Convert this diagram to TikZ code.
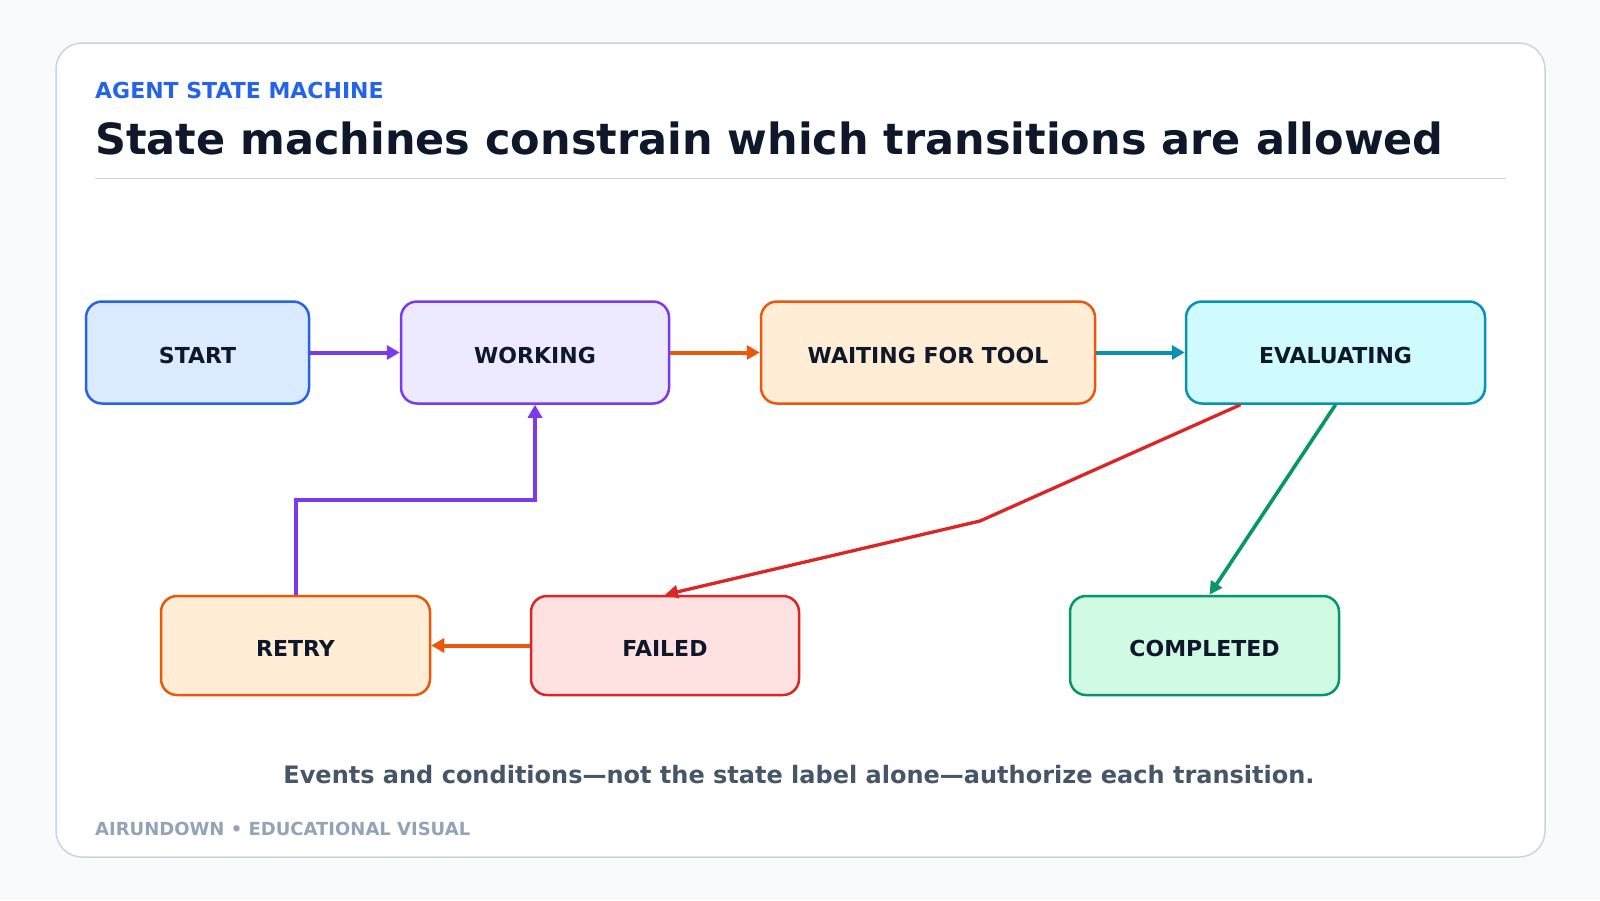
\documentclass[tikz,border=0pt]{standalone}
\usepackage{fontspec}
\setmainfont{DejaVu Sans}
\usetikzlibrary{arrows.meta,calc}
\definecolor{bgc}{HTML}{F8FAFC}
\definecolor{cardline}{HTML}{CBD5E1}
\definecolor{kick}{HTML}{2563EB}
\definecolor{ink}{HTML}{0F172A}
\definecolor{capc}{HTML}{475569}
\definecolor{footc}{HTML}{94A3B8}
\definecolor{blueB}{HTML}{2563EB}\definecolor{blueF}{HTML}{DBEAFE}
\definecolor{purB}{HTML}{7C3AED}\definecolor{purF}{HTML}{EDE9FE}
\definecolor{orB}{HTML}{EA580C}\definecolor{orF}{HTML}{FFEDD5}
\definecolor{cyB}{HTML}{0891B2}\definecolor{cyF}{HTML}{CFFAFE}
\definecolor{redB}{HTML}{DC2626}\definecolor{redF}{HTML}{FEE2E2}
\definecolor{grB}{HTML}{059669}\definecolor{grF}{HTML}{D1FAE5}
\tikzset{
  statebox/.style={draw, line width=2.5pt, rounded corners=16pt, minimum height=102pt,
    inner sep=0pt, text height=22pt, text depth=0pt,
    font=\fontsize{22}{26}\selectfont\bfseries, text=ink},
  conn/.style={line width=4pt, -{Triangle[length=13pt,width=14pt]}},
  thinconn/.style={line width=3.3pt, -{Triangle[length=13pt,width=13pt]}}
}
\begin{document}
\begin{tikzpicture}[x=1pt,y=-1pt]
\useasboundingbox (0,0) rectangle (1600,900);
\fill[bgc] (0,0) rectangle (1600,900);
\draw[cardline, line width=1.5pt, fill=white, rounded corners=26pt] (56,43) rectangle (1545,857);
\node[anchor=west, inner sep=0pt, text=kick, font=\fontsize{22}{26}\selectfont\bfseries] (kicker) at (95,90) {AGENT STATE MACHINE};
\node[anchor=base west, text=ink, font=\fontsize{43}{52}\selectfont\bfseries, inner sep=0pt] (title) at (95,154) {State machines constrain which transitions are allowed};
\draw[cardline, line width=1.5pt] (95,178.5) -- (1506,178.5);

\node[statebox, draw=blueB, fill=blueF, minimum width=223pt] (start) at (197.5,352.5) {START};
\node[statebox, draw=purB, fill=purF, minimum width=268pt] (working) at (535,352.5) {WORKING};
\node[statebox, draw=orB, fill=orF, minimum width=334pt] (waiting) at (928,352.5) {WAITING FOR TOOL};
\node[statebox, draw=cyB, fill=cyF, minimum width=299pt] (eval) at (1335.5,352.5) {EVALUATING};
\node[statebox, draw=orB, fill=orF, minimum width=269pt, minimum height=99pt] (retry) at (295.5,645.5) {RETRY};
\node[statebox, draw=redB, fill=redF, minimum width=268pt, minimum height=99pt] (failed) at (665,645.5) {FAILED};
\node[statebox, draw=grB, fill=grF, minimum width=269pt, minimum height=99pt] (completed) at (1204.5,645.5) {COMPLETED};

\draw[conn, purB] (start) -- (working);
\draw[conn, orB] (working) -- (waiting);
\draw[conn, cyB] (waiting) -- (eval);
\coordinate (rb) at (295.5,500);
\draw[conn, purB] (retry.north) -- (rb) -| (working.south);
\draw[conn, orB] (failed) -- (retry);
\coordinate (rw) at (980,521);
\draw[thinconn, redB] ([xshift=-95]eval.south) -- (rw) -- (failed.north);
\draw[thinconn, grB, line width=3.6pt] (eval.south) -- ([xshift=5]completed.north);

\node[text=capc, inner sep=0pt, font=\fontsize{24}{28}\selectfont\bfseries] (caption) at (799,774.5) {Events and conditions—not the state label alone—authorize each transition.};
\node[anchor=west, inner sep=0pt, text=footc, font=\fontsize{18}{22}\selectfont\bfseries] (footer) at (95,828.5) {AIRUNDOWN • EDUCATIONAL VISUAL};
\end{tikzpicture}
\end{document}
